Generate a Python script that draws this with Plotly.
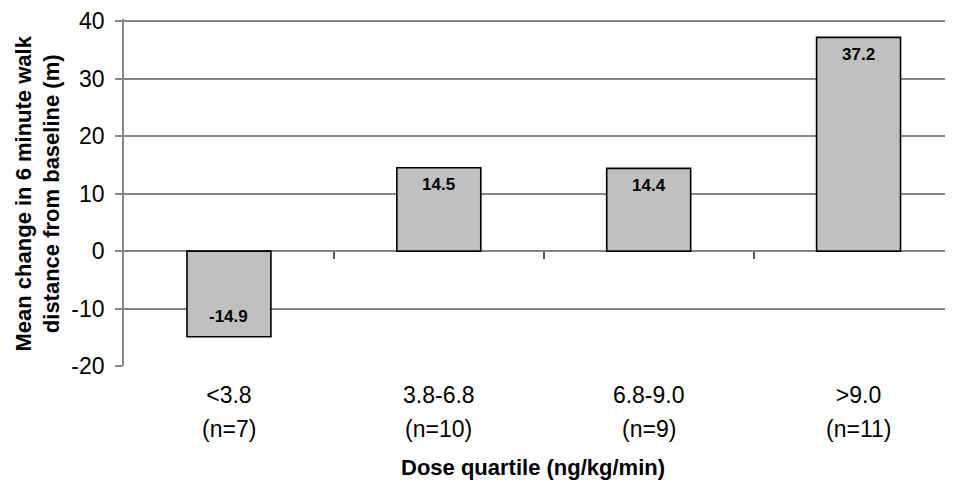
import plotly.graph_objects as go

categories = ["<3.8", "3.8-6.8", "6.8-9.0", ">9.0"]
n_values = [7, 10, 9, 11]
means = [-14.9, 14.5, 14.4, 37.2]
y_ticks = [-20, -10, 0, 10, 20, 30, 40]
y_tick_labels = ["-20", "-10", "0", "10", "20", "30", "40"]

y_min, y_max = -20, 40.4
x_range = [-0.5, 3.45]
FONT = "Liberation Sans, Arial, sans-serif"
GRID = "#858585"

fig = go.Figure()
fig.add_trace(go.Bar(
    x=categories, y=means, width=0.4,
    marker=dict(color="#c0c0c0", line=dict(color="black", width=1.6)),
    hoverinfo="skip", showlegend=False,
))
# invisible trace on secondary axis (for tick marks at the zero line)
fig.add_trace(go.Scatter(x=[0.5, 1.5, 2.5], y=[0, 0, 0], xaxis="x2", mode="markers",
                         marker=dict(opacity=0), hoverinfo="skip", showlegend=False))

annotations = []
for c, v in zip(categories, means):
    annotations.append(dict(
        x=c, y=v, xref="x", yref="y", text=f"<b>{v}</b>", showarrow=False,
        yshift=-17 if v > 0 else 20, font=dict(family=FONT, size=17, color="black"),
    ))
for c, n in zip(categories, n_values):
    annotations.append(dict(
        x=c, y=0, xref="x", yref="paper", text=f"(n={n})", showarrow=False,
        yshift=-63, yanchor="middle", font=dict(family=FONT, size=23, color="black"),
    ))
annotations.append(dict(
    x=0.5, y=0, xref="paper", yref="paper", text="<b>Dose quartile (ng/kg/min)</b>",
    showarrow=False, yshift=-101, xshift=-6, yanchor="middle",
    font=dict(family=FONT, size=22, color="black"),
))
annotations.append(dict(
    x=0, y=0.5, xref="paper", yref="paper",
    text="<b>Mean change in 6 minute walk<br>distance from baseline (m)</b>",
    showarrow=False, textangle=-90, xshift=-87, xanchor="center", yshift=-1,
    font=dict(family=FONT, size=22, color="black"),
))

fig.update_layout(
    width=945, height=476,
    margin=dict(l=116, r=0, t=9, b=118),
    paper_bgcolor="white", plot_bgcolor="white",
    font=dict(family=FONT, size=23, color="black"),
    xaxis=dict(
        type="category", categoryorder="array", categoryarray=categories,
        range=x_range, showgrid=False, showline=False, zeroline=False,
        ticks="outside", ticklen=8, tickcolor="rgba(0,0,0,0)",
        tickfont=dict(size=23),
    ),
    xaxis2=dict(
        overlaying="x", anchor="free", position=(0 - y_min) / (y_max - y_min),
        range=x_range, tickvals=[0.5, 1.5, 2.5], ticks="outside", ticklen=7,
        tickcolor="#555", tickwidth=1.5, showticklabels=False,
        showgrid=False, showline=False, zeroline=False,
    ),
    yaxis=dict(
        range=[y_min, y_max], tickvals=y_ticks, ticktext=y_tick_labels,
        showgrid=True, gridcolor=GRID, gridwidth=1.6,
        zeroline=False, showline=True, linecolor=GRID, linewidth=1.6,
        ticks="outside", ticklen=7, tickcolor=GRID, tickwidth=1.6,
        ticklabelstandoff=6, tickfont=dict(size=23), ticklabeloverflow="allow",
    ),
    annotations=annotations,
)

fig.write_html("out.html")
